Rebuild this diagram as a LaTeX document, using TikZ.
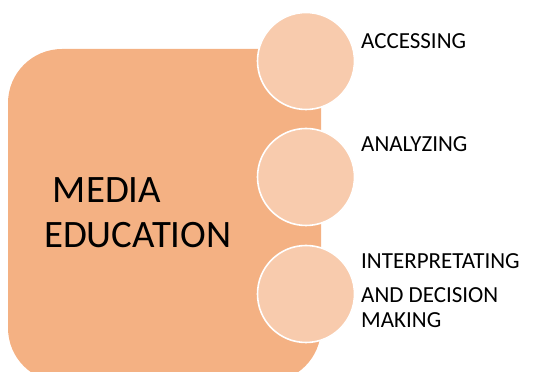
\documentclass[tikz,border=0pt]{standalone}
\usepackage{fontspec}
\setmainfont{Carlito}
\usetikzlibrary{positioning}
\definecolor{boxfill}{HTML}{F4B183}
\definecolor{ballfill}{HTML}{F8CBAD}

\begin{document}
\begin{tikzpicture}[
  x=1pt, y=1pt,
  ball/.style={circle, draw=white, line width=1.6pt, fill=ballfill, minimum size=97pt, inner sep=0pt},
  label/.style={inner sep=0pt, anchor=base west, align=left, font=\fontsize{23}{25}\selectfont},
  title/.style={inner sep=0pt, anchor=base west, align=left, font=\fontsize{38.8}{45}\selectfont}
]
\useasboundingbox (0,0) rectangle (533,372);
\clip (0,0) rectangle (533,372);

\fill[boxfill, rounded corners=54pt] (8,323) rectangle (321,-10);
\node[title] (me) at (44,124) {\ MEDIA\\EDUCATION};

\node[ball] (c1) at (306,311) {};
\node[ball] (c2) at (306,195) {};
\node[ball] (c3) at (306,78) {};

\node[label] (l1) at (361,323) {ACCESSING};
\node[label] (l2) at (361,220) {ANALYZING};
\node[label] (l3) at (361,44) {INTERPRETATING\\[9pt]AND DECISION\\MAKING};
\end{tikzpicture}
\end{document}
